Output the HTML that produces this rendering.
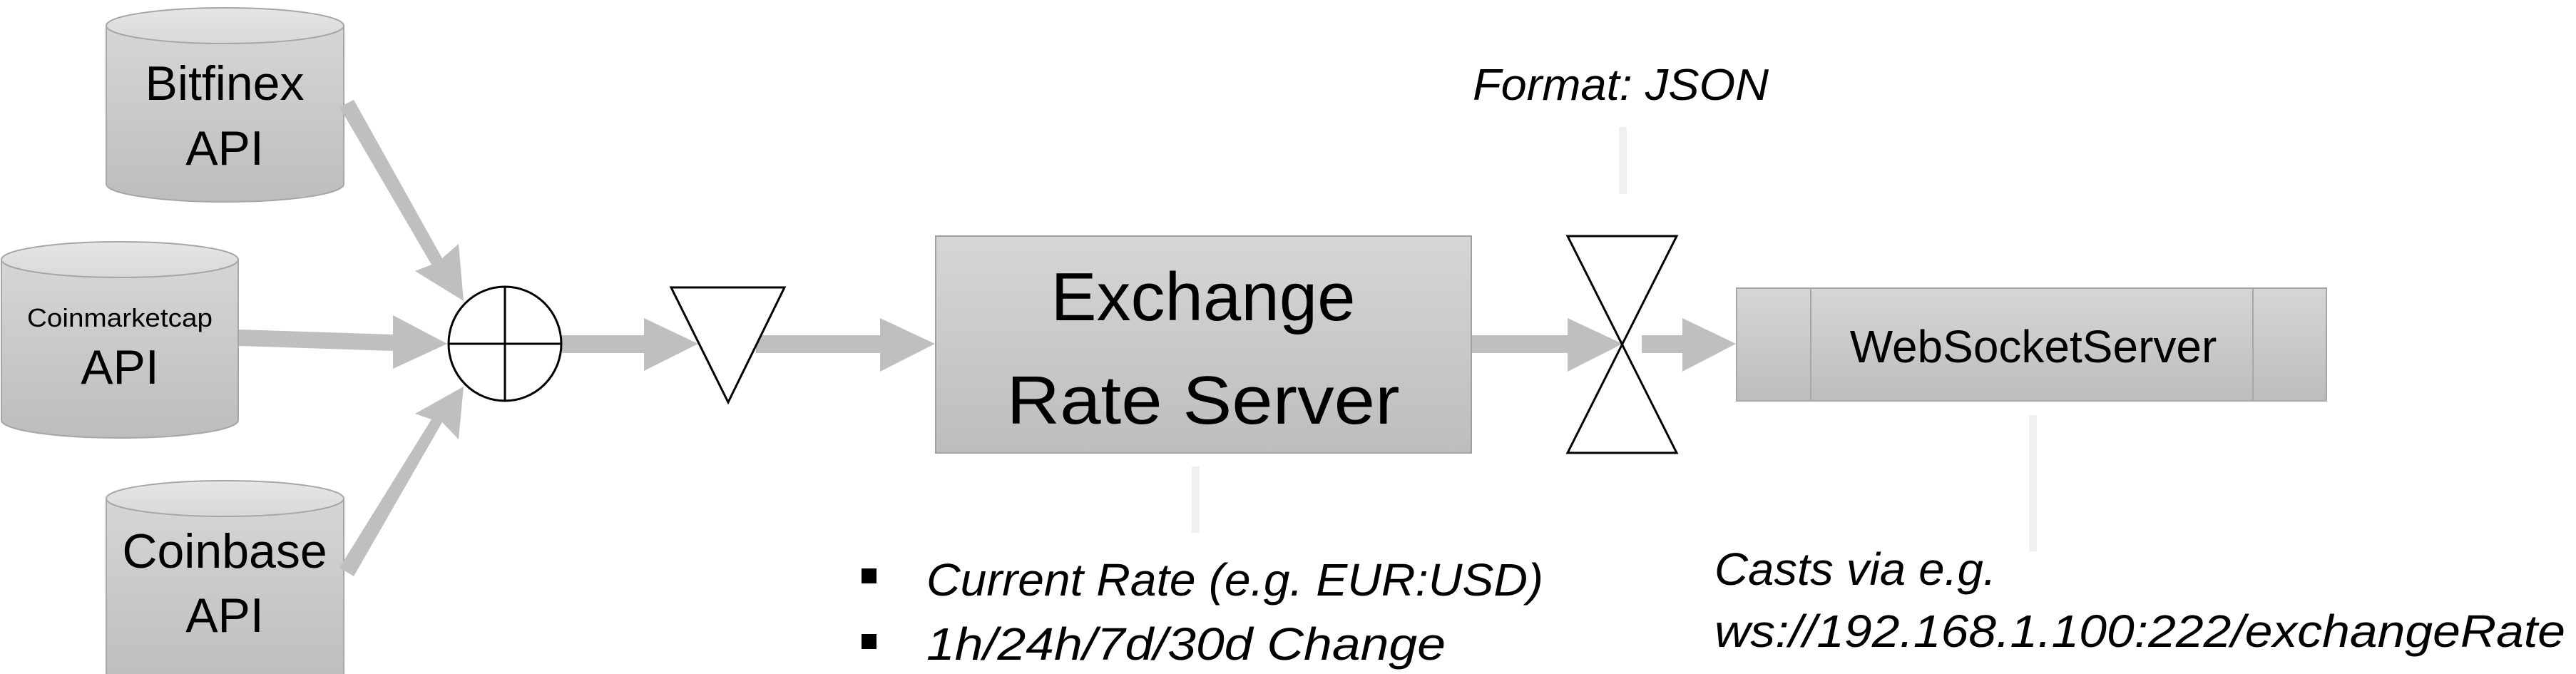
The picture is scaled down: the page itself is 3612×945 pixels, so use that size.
<!DOCTYPE html>
<html><head><meta charset="utf-8"><style>
html,body{margin:0;padding:0;background:#fff;width:3612px;height:945px;overflow:hidden}
text{font-family:"Liberation Sans",sans-serif;fill:#000}
</style></head><body>
<svg width="3612" height="945" viewBox="0 0 3612 945" xmlns="http://www.w3.org/2000/svg">
<defs>
<linearGradient id="g" x1="0" y1="0" x2="0" y2="1"><stop offset="0" stop-color="#d6d6d6"/><stop offset="1" stop-color="#bdbdbd"/></linearGradient>
<linearGradient id="gt" x1="0" y1="0" x2="0" y2="1"><stop offset="0" stop-color="#e6e6e6"/><stop offset="1" stop-color="#d9d9d9"/></linearGradient>
</defs>
<!-- cylinders -->
<g stroke="#a6a6a6" stroke-width="2">
<path d="M149,36 V258 A166.5,25 0 0 0 482,258 V36" fill="url(#g)"/>
<ellipse cx="315.5" cy="36" rx="166.5" ry="25" fill="url(#gt)"/>
<path d="M2,364 V589 A166,25 0 0 0 334,589 V364" fill="url(#g)"/>
<ellipse cx="168" cy="364" rx="166" ry="25" fill="url(#gt)"/>
<path d="M149,699 V960 H482 V699" fill="url(#g)"/>
<ellipse cx="315.5" cy="699" rx="166.5" ry="25" fill="url(#gt)"/>
</g>
<text x="315" y="140" font-size="68" text-anchor="middle">Bitfinex</text>
<text x="315" y="231" font-size="68" text-anchor="middle">API</text>
<text x="168" y="458" font-size="36" text-anchor="middle" textLength="260" lengthAdjust="spacingAndGlyphs">Coinmarketcap</text>
<text x="168" y="538" font-size="68" text-anchor="middle">API</text>
<text x="315" y="796" font-size="68" text-anchor="middle">Coinbase</text>
<text x="315" y="886" font-size="68" text-anchor="middle">API</text>
<!-- arrows -->
<g fill="#bfbfbf">
<polygon points="476,150 496,140 620,362 643,342 650,422 582,380 605,371"/>
<polygon points="335,462 335,485 551,492 551,517 627,482 551,442 551,469"/>
<polygon points="476,796 496,808 620,592 643,616 650,542 582,580 605,588"/>
<polygon points="788,470 788,495 903,495 903,520 979,482 903,446 903,470"/>
<polygon points="1060,470 1060,495 1234,495 1234,521 1311,482 1234,446 1234,470"/>
<polygon points="2063,470 2063,495 2198,495 2198,521 2275,482 2198,446 2198,470"/>
<polygon points="2302,470 2302,495 2359,495 2359,521 2434,482 2359,446 2359,470"/>
</g>
<!-- circle -->
<g stroke="#000" stroke-width="3" fill="none">
<ellipse cx="708" cy="482" rx="79" ry="80" fill="#fff"/>
<line x1="629" y1="482" x2="787" y2="482"/>
<line x1="708" y1="402" x2="708" y2="562"/>
<polygon points="941,403 1100,403 1021,564" fill="#fff"/>
<polygon points="2198,331 2351,331 2198,635 2351,635"/>
</g>
<!-- exchange box -->
<rect x="1312" y="331" width="751" height="304" fill="url(#g)" stroke="#a0a0a0" stroke-width="2"/>
<text x="1687" y="449" font-size="96" text-anchor="middle">Exchange</text>
<text x="1687" y="594" font-size="96" text-anchor="middle" textLength="551" lengthAdjust="spacingAndGlyphs">Rate Server</text>
<!-- websocket box -->
<rect x="2435" y="404" width="827" height="158" fill="url(#g)" stroke="#a6a6a6" stroke-width="2"/>
<line x1="2539" y1="404" x2="2539" y2="562" stroke="#a6a6a6" stroke-width="2"/>
<line x1="3159" y1="404" x2="3159" y2="562" stroke="#a6a6a6" stroke-width="2"/>
<text x="2851" y="508" font-size="64" text-anchor="middle">WebSocketServer</text>
<!-- annotation lines -->
<g fill="#f0f0f0">
<rect x="2270" y="178" width="11" height="94"/>
<rect x="1671" y="654" width="11" height="93"/>
<rect x="2845" y="582" width="11" height="191"/>
</g>
<g font-style="italic">
<text x="2065" y="140" font-size="62" textLength="415" lengthAdjust="spacingAndGlyphs">Format: JSON</text>
<text x="1299" y="835" font-size="64" textLength="865" lengthAdjust="spacingAndGlyphs">Current Rate (e.g. EUR:USD)</text>
<text x="1299" y="925" font-size="64" textLength="728" lengthAdjust="spacingAndGlyphs">1h/24h/7d/30d Change</text>
<text x="2404" y="820" font-size="64" textLength="395" lengthAdjust="spacingAndGlyphs">Casts via e.g.</text>
<text x="2404" y="907" font-size="64" textLength="1193" lengthAdjust="spacingAndGlyphs">ws://192.168.1.100:222/exchangeRate</text>
</g>
<rect x="1208" y="797" width="21" height="21" fill="#000"/>
<rect x="1208" y="889" width="21" height="21" fill="#000"/>
</svg>
</body></html>
